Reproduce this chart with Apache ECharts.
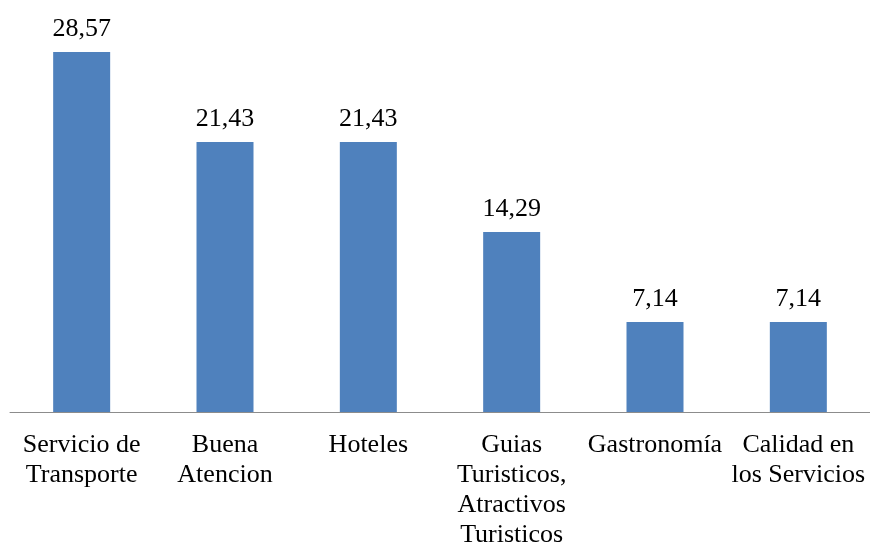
<!DOCTYPE html>
<html>
<head>
<meta charset="utf-8">
<script src="https://cdn.jsdelivr.net/npm/echarts@6/dist/echarts.min.js"></script>
<style>
html,body{margin:0;padding:0;background:#fff;}
#chart{width:870px;height:544px;}
</style>
</head>
<body>
<div id="chart"></div>
<script>
// Categories (line breaks as shown under the axis)
const categories = [
  'Servicio de\nTransporte',
  'Buena\nAtencion',
  'Hoteles',
  'Guias\nTuristicos,\nAtractivos\nTuristicos',
  'Gastronomía',
  'Calidad en\nlos Servicios'
];
// Percentages
const values = [28.57, 21.43, 21.43, 14.29, 7.14, 7.14];

const chart = echarts.init(document.getElementById('chart'), null, {renderer: 'canvas'});
const font = 'Liberation Serif';

chart.setOption({
  animation: false,
  backgroundColor: '#ffffff',
  grid: {left: 10, right: 0, top: 34, bottom: 132, containLabel: false, outerBoundsMode: 'none'},
  xAxis: {
    type: 'category',
    data: categories,
    axisLine: {show: true, lineStyle: {color: '#8c8c8c', width: 1}},
    axisTick: {show: false},
    axisLabel: {
      interval: 0,
      color: '#000',
      fontFamily: font,
      fontSize: 26,
      lineHeight: 30,
      margin: 18
    }
  },
  yAxis: {
    type: 'value',
    min: 0,
    max: 30,
    show: false,
    splitLine: {show: false}
  },
  series: [{
    type: 'bar',
    data: values,
    barWidth: 57,
    itemStyle: {color: '#4f81bd'},
    label: {
      show: true,
      position: 'top',
      distance: 10,
      color: '#000',
      fontFamily: font,
      fontSize: 26,
      formatter: p => p.value.toFixed(2).replace('.', ',')
    }
  }]
});
</script>
</body>
</html>
